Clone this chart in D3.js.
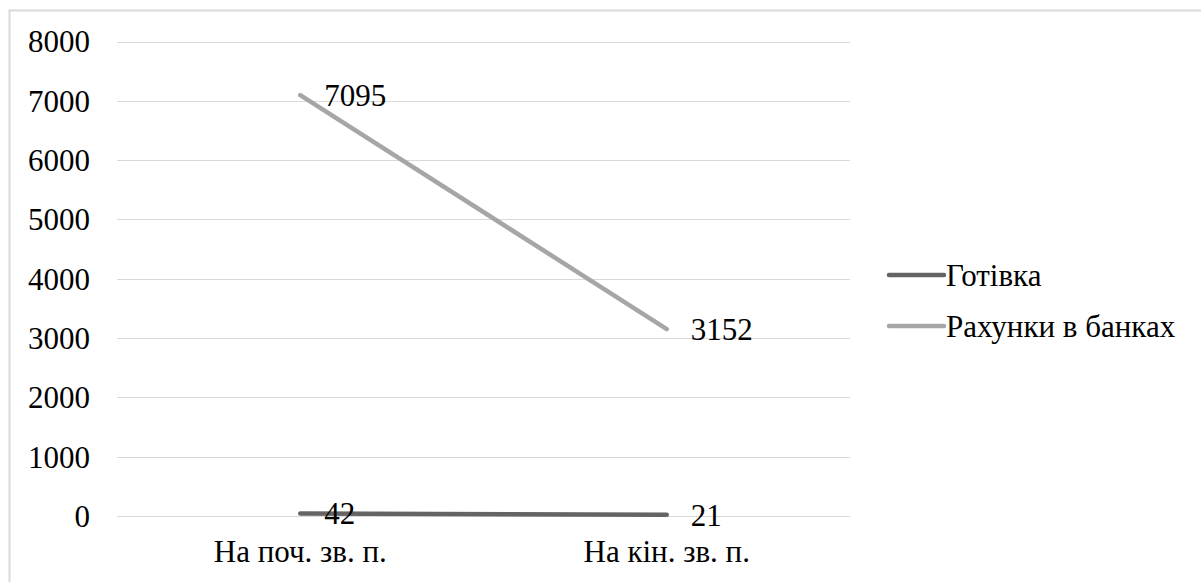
<!DOCTYPE html>
<html><head><meta charset="utf-8">
<script src="https://cdn.jsdelivr.net/npm/d3@7"></script>
<style>
@font-face { font-family: "ChartSerif"; src: local("Liberation Serif"), local("LiberationSerif"), local("Liberation Serif Regular"), local("LiberationSerif-Regular"), local("Times New Roman"); }
</style>
</head><body style="margin:0;background:#fff">
<svg id="c" width="1201" height="582" style="display:block"></svg>
<script>
const categories = ["На поч. зв. п.", "На кін. зв. п."];
const seriesNames = ["Готівка", "Рахунки в банках"];
const cashValues = [42, 21];
const bankValues = [7095, 3152];
const yTicks = [0, 1000, 2000, 3000, 4000, 5000, 6000, 7000, 8000];
const colors = ["#646464", "#a6a6a6"];

const series = [
  {name: seriesNames[0], values: cashValues, color: colors[0]},
  {name: seriesNames[1], values: bankValues, color: colors[1]}
];

const fs = 31;
const FAMILY = '"Liberation Serif", "ChartSerif", "Times New Roman", Tinos, serif';
const styleText = sel => sel
  .style("font-family", FAMILY)
  .style("font-size", fs + "px")
  .attr("fill", "#000");

const svg = d3.select("#c");
svg.append("rect").attr("x", 9.5).attr("y", 10.5).attr("width", 1200).attr("height", 600)
  .attr("fill", "none").attr("stroke", "#d9d9d9").attr("stroke-width", 2);

const pLeft = 117, pRight = 850, pTop = 41.5, pBottom = 516;
const x = d3.scaleBand().domain(categories).range([pLeft, pRight]);
const y = d3.scaleLinear().domain([0, 8000]).range([pBottom, pTop]);

svg.append("g").selectAll("line").data(yTicks).join("line")
  .attr("x1", pLeft).attr("x2", pRight)
  .attr("y1", d => Math.round(y(d)) + 0.5).attr("y2", d => Math.round(y(d)) + 0.5)
  .attr("stroke", "#d9d9d9").attr("stroke-width", 1);

// y tick labels (drawn from the scale's ticks)
svg.append("g").selectAll("text").data(yTicks).join("text")
  .call(styleText)
  .attr("x", 90).attr("y", d => y(d)).attr("dy", "0.35em")
  .attr("text-anchor", "end")
  .text(d => d3.format("d")(d));

// x category labels
svg.append("g").selectAll("text").data(categories).join("text")
  .call(styleText)
  .attr("x", d => x(d) + x.bandwidth() / 2).attr("y", pBottom + 46)
  .attr("text-anchor", "middle")
  .text(d => d);

const cx = c => x(c) + x.bandwidth() / 2;
const line = d3.line().x((d, i) => cx(categories[i])).y(d => y(d));

series.forEach(s => {
  svg.append("path").datum(s.values).attr("d", line)
    .attr("fill", "none").attr("stroke", s.color).attr("stroke-width", 4.5).attr("stroke-linecap", "round");
});
series.forEach(s => {
  svg.append("g").selectAll("text").data(s.values).join("text")
    .call(styleText)
    .attr("x", (d, i) => cx(categories[i]) + 24)
    .attr("y", d => y(d))
    .attr("dy", "0.35em")
    .text(d => d);
});

const lg = svg.append("g");
series.forEach((s, i) => {
  const ly = 275 + i * 51;
  lg.append("line").attr("x1", 889).attr("x2", 944).attr("y1", ly).attr("y2", ly)
    .attr("stroke", s.color).attr("stroke-width", 4.5).attr("stroke-linecap", "round");
  lg.append("text").call(styleText).attr("x", 946).attr("y", ly).attr("dy", "0.35em")
    .text(s.name);
});
</script>
</body></html>
